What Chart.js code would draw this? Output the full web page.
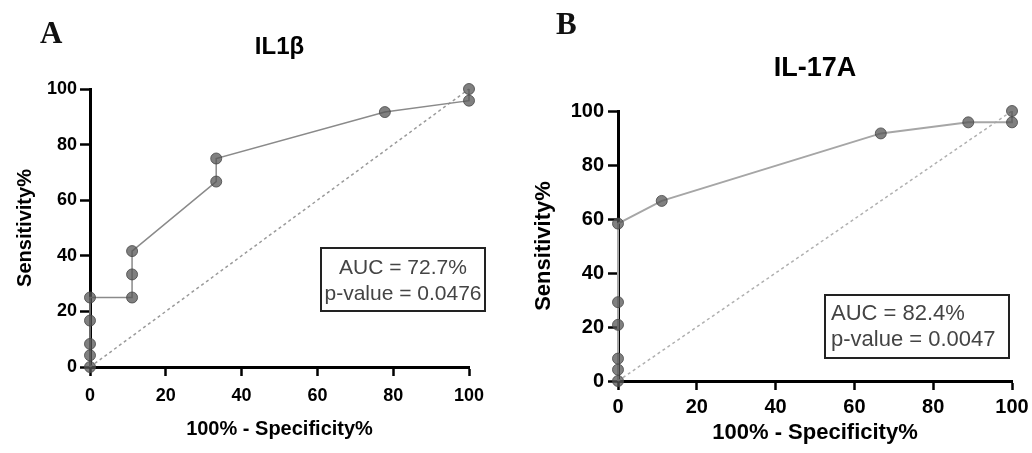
<!DOCTYPE html>
<html><head><meta charset="utf-8">
<script src="https://cdn.jsdelivr.net/npm/chart.js@4.4.1/dist/chart.umd.min.js"></script>
<style>
html,body{margin:0;padding:0;background:#fff}
body{width:1032px;height:453px;overflow:hidden;position:relative;font-family:"Liberation Sans",Arial,sans-serif}
canvas{position:absolute;top:0}
.letter{position:absolute;font-family:"Liberation Serif","Times New Roman",serif;font-weight:bold;font-size:31px;line-height:1;color:#111}
.auc{position:absolute;border:2px solid #222;color:#444;box-sizing:border-box;line-height:26px;white-space:nowrap}
</style></head>
<body>
<canvas id="cA" width="516" height="453" style="left:0"></canvas>
<canvas id="cB" width="516" height="453" style="left:516px"></canvas>
<div class="letter" style="left:40px;top:17px">A</div>
<div class="letter" style="left:556px;top:8px">B</div>
<div class="auc" style="left:320px;top:247px;width:166px;height:65px;text-align:center;font-size:21px;padding-top:5px">AUC = 72.7%<br>p-value = 0.0476</div>
<div class="auc" style="left:824px;top:294px;width:186px;height:65px;text-align:left;font-size:22px;padding-top:4px;padding-left:5px">AUC = 82.4%<br>p-value = 0.0047</div>
<script>
// ---- data ----
const titleA = 'IL1β';
const titleB = 'IL-17A';
const xLabel = '100% - Specificity%';
const yLabel = 'Sensitivity%';
const tickValues = [0, 20, 40, 60, 80, 100];

const fprA = [0, 0, 0, 0, 0, 11.1, 11.1, 11.1, 33.3, 33.3, 77.8, 100, 100];
const tprA = [0, 4.2, 8.3, 16.7, 25, 25, 33.3, 41.7, 66.7, 75, 91.7, 95.8, 100];

const fprB = [0, 0, 0, 0, 0, 0, 11.1, 66.7, 88.9, 100, 100];
const tprB = [0, 4.2, 8.3, 20.8, 29.2, 58.3, 66.7, 91.7, 95.8, 95.8, 100];

const diagX = [0, 100];
const diagY = [0, 100];

Chart.defaults.font.family = '"Liberation Sans", Arial, sans-serif';
Chart.defaults.color = '#000';

const titlePlugin = {
  id: 'topTitle',
  afterDraw(chart, args, opts) {
    const ctx = chart.ctx, a = chart.chartArea;
    ctx.save();
    ctx.font = 'bold ' + opts.size + 'px "Liberation Sans", Arial, sans-serif';
    ctx.fillStyle = '#000';
    ctx.textAlign = 'center';
    ctx.textBaseline = 'middle';
    ctx.fillText(opts.text, (a.left + a.right) / 2, opts.y);
    ctx.restore();
  }
};

function makeChart(id, xs, ys, s) {
  const pts = xs.map((x, i) => ({x: x, y: ys[i]}));
  const diag = diagX.map((x, i) => ({x: x, y: diagY[i]}));
  return new Chart(document.getElementById(id), {
    type: 'scatter',
    data: {
      datasets: [
        {data: diag, showLine: true, borderColor: s.diagColor, borderWidth: 1.5, borderDash: [3, 3],
         pointRadius: 0, clip: false, order: 2},
        {data: pts, showLine: true, borderColor: s.lineColor, borderWidth: s.lineWidth,
         pointRadius: 5.5, pointBackgroundColor: 'rgba(85,85,85,0.75)', pointBorderColor: 'rgba(70,70,70,0.8)',
         pointBorderWidth: 1, clip: false, order: 1}
      ]
    },
    options: {
      responsive: false, animation: false, devicePixelRatio: 1,
      layout: {padding: {top: s.top, right: s.right, left: 0, bottom: 0}},
      plugins: {legend: {display: false}, tooltip: {enabled: false},
        topTitle: {text: s.title, size: s.titleSize, y: s.titleY}},
      scales: {
        x: {
          type: 'linear', min: 0, max: 100,
          afterBuildTicks: (sc) => { sc.ticks = tickValues.map(v => ({value: v})); },
          ticks: {font: {size: s.tickSize, weight: 'bold', lineHeight: s.xTickLH}, color: '#000', padding: s.xTickPad, maxRotation: 0},
          grid: {display: true, drawOnChartArea: false, drawTicks: true, tickLength: 9, tickWidth: 2.5, tickColor: '#000'},
          border: {display: true, color: '#000', width: 3},
          title: {display: true, text: xLabel, font: {size: s.axTitleSize, weight: 'bold'}, color: '#000',
                  padding: {top: 0, bottom: s.xTitlePad}},
          afterFit: (sc) => { sc.height = s.xH; }
        },
        y: {
          type: 'linear', min: 0, max: 100,
          afterBuildTicks: (sc) => { sc.ticks = tickValues.map(v => ({value: v})); },
          ticks: {font: {size: s.tickSize, weight: 'bold'}, color: '#000', padding: s.yTickPad},
          grid: {display: true, drawOnChartArea: false, drawTicks: true, tickLength: 10, tickWidth: 2.5, tickColor: '#000'},
          border: {display: true, color: '#000', width: 3},
          title: {display: true, text: yLabel, font: {size: s.axTitleSize, weight: 'bold'}, color: '#000',
                  padding: {top: s.yTitlePad, bottom: 0}},
          afterFit: (sc) => { sc.width = s.yW; }
        }
      }
    },
    plugins: [titlePlugin]
  });
}

makeChart('cA', fprA, tprA, {
  title: titleA, titleSize: 24, titleY: 47,
  top: 89, right: 47, xH: 86, yW: 90,
  tickSize: 18, axTitleSize: 20, xTickPad: 9, xTickLH: 1.2, yTickPad: 3, xTitlePad: 12, yTitlePad: 13,
  lineColor: '#8a8a8a', lineWidth: 1.5, diagColor: '#9a9a9a'
});
makeChart('cB', fprB, tprB, {
  title: titleB, titleSize: 27, titleY: 69,
  top: 111, right: 20, xH: 72, yW: 102,
  tickSize: 20, axTitleSize: 22, xTickPad: 2, xTickLH: 1.5, yTickPad: 4, xTitlePad: 7, yTitlePad: 15,
  lineColor: '#a6a6a6', lineWidth: 2, diagColor: '#b0b0b0'
});
</script>
</body></html>
